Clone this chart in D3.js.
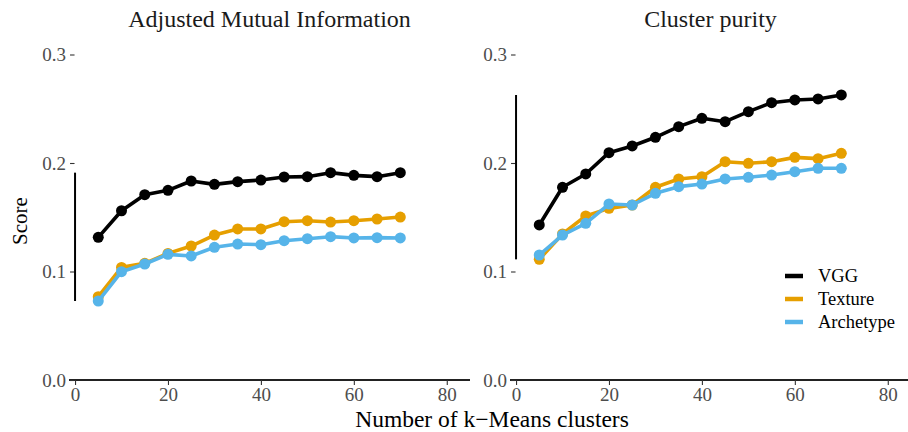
<!DOCTYPE html>
<html>
<head>
<meta charset="utf-8">
<script src="https://cdn.jsdelivr.net/npm/d3@7"></script>
<style>
  body { margin: 0; background: #fff; }
  svg { display: block; font-family: "Liberation Serif", "DejaVu Serif", serif; }
</style>
</head>
<body>
<svg id="chart" width="908" height="432"></svg>
<script>
const clusters = [5, 10, 15, 20, 25, 30, 35, 40, 45, 50, 55, 60, 65, 70];

const amiVGG = [0.1315, 0.156, 0.1708, 0.1748, 0.1834, 0.1803, 0.1828, 0.1843, 0.1871, 0.1874, 0.1911, 0.1886, 0.1874, 0.1911];
const amiTexture = [0.0768, 0.1038, 0.1075, 0.1167, 0.1235, 0.1336, 0.1392, 0.1392, 0.1459, 0.1468, 0.1456, 0.1468, 0.1484, 0.1502];
const amiArchetype = [0.0728, 0.0998, 0.1069, 0.1158, 0.1143, 0.1223, 0.1253, 0.1247, 0.1284, 0.1302, 0.1321, 0.1309, 0.1312, 0.1309];

const purityVGG = [0.1429, 0.1776, 0.1899, 0.2095, 0.2157, 0.2237, 0.2335, 0.2412, 0.2381, 0.2473, 0.2556, 0.2581, 0.259, 0.2627];
const purityTexture = [0.1112, 0.1346, 0.1512, 0.1582, 0.1613, 0.1776, 0.1853, 0.1874, 0.2012, 0.1997, 0.2012, 0.2052, 0.204, 0.2089];
const purityArchetype = [0.1152, 0.1336, 0.1444, 0.1622, 0.1613, 0.1721, 0.1782, 0.1806, 0.1853, 0.1868, 0.1889, 0.192, 0.1951, 0.1951];

const seriesNames = ["VGG", "Texture", "Archetype"];
const seriesColors = ["#000000", "#E69F00", "#56B4E9"];
const panelTitles = ["Adjusted Mutual Information", "Cluster purity"];
const xTicks = [0, 20, 40, 60, 80];
const yTicks = [0.0, 0.1, 0.2, 0.3];

const panels = [
  { title: panelTitles[0], left: 69, values: [amiVGG, amiTexture, amiArchetype] },
  { title: panelTitles[1], left: 510, values: [purityVGG, purityTexture, purityArchetype] }
];

const svg = d3.select("#chart");
const panelWidth = 401;
const fmtY = d3.format(".1f");

const y = d3.scaleLinear().domain([0, 0.3]).range([380, 54.5]);

panels.forEach((p) => {
  const x = d3.scaleLinear().domain([-1.3, 85]).range([p.left, p.left + panelWidth]);
  const g = svg.append("g");

  // strip title
  g.append("text")
    .attr("x", p.left + panelWidth / 2)
    .attr("y", 27)
    .attr("text-anchor", "middle")
    .attr("font-size", 24)
    .attr("fill", "#1a1a1a")
    .text(p.title);

  // x axis: full-width line
  const xAxis = d3.axisBottom(x).tickValues(xTicks).tickSize(5).tickPadding(3).tickFormat(d3.format("d"));
  g.append("g")
    .attr("transform", "translate(0,380)")
    .call(xAxis)
    .call((a) => {
      a.select(".domain").attr("d", `M${p.left},0H${p.left + panelWidth}`)
        .attr("stroke", "#222").attr("stroke-width", 2.2);
      a.selectAll(".tick line").attr("stroke", "#333").attr("stroke-width", 1.1);
      a.selectAll(".tick text").attr("fill", "#4d4d4d").attr("font-size", 19)
        .attr("font-family", "Liberation Serif");
    });

  // y axis: ticks + range frame
  const x0 = x(0);
  const yAxis = d3.axisLeft(y).tickValues(yTicks).tickSize(4.5).tickPadding(4).tickFormat(fmtY);
  g.append("g")
    .attr("transform", `translate(${x0 - 0.5},0)`)
    .call(yAxis)
    .call((a) => {
      a.select(".domain").remove();
      a.selectAll(".tick line").attr("stroke", "#333").attr("stroke-width", 1.1);
      a.selectAll(".tick text").attr("fill", "#4d4d4d").attr("font-size", 19)
        .attr("font-family", "Liberation Serif");
    });

  const all = p.values.flat();
  const ext = d3.extent(all);
  g.append("line")
    .attr("x1", x0).attr("x2", x0)
    .attr("y1", y(ext[0])).attr("y2", y(ext[1]))
    .attr("stroke", "#000").attr("stroke-width", 2);

  const line = d3.line().x((d, i) => x(clusters[i])).y((d) => y(d));

  p.values.forEach((vals, si) => {
    g.append("path")
      .attr("d", line(vals))
      .attr("fill", "none")
      .attr("stroke", seriesColors[si])
      .attr("stroke-width", 3.6)
      .attr("stroke-linejoin", "round");
    g.selectAll(null)
      .data(vals)
      .join("circle")
      .attr("cx", (d, i) => x(clusters[i]))
      .attr("cy", (d) => y(d))
      .attr("r", 5.5)
      .attr("fill", seriesColors[si]);
  });
});

// axis titles
svg.append("text")
  .attr("x", 492)
  .attr("y", 427)
  .attr("text-anchor", "middle")
  .attr("font-size", 23.5)
  .attr("fill", "#000")
  .text("Number of k\u2212Means clusters");

svg.append("text")
  .attr("transform", "translate(27,221) rotate(-90)")
  .attr("text-anchor", "middle")
  .attr("font-size", 21)
  .attr("fill", "#000")
  .text("Score");

// legend
const legend = svg.append("g").attr("transform", "translate(785,276)");
seriesNames.forEach((name, i) => {
  const row = legend.append("g").attr("transform", `translate(0,${i * 23})`);
  row.append("line")
    .attr("x1", 0).attr("x2", 18)
    .attr("stroke", seriesColors[i])
    .attr("stroke-width", 4.5);
  row.append("text")
    .attr("x", 33)
    .attr("dy", "0.35em")
    .attr("font-size", 18.5)
    .attr("fill", "#000")
    .text(name);
});
</script>
</body>
</html>
